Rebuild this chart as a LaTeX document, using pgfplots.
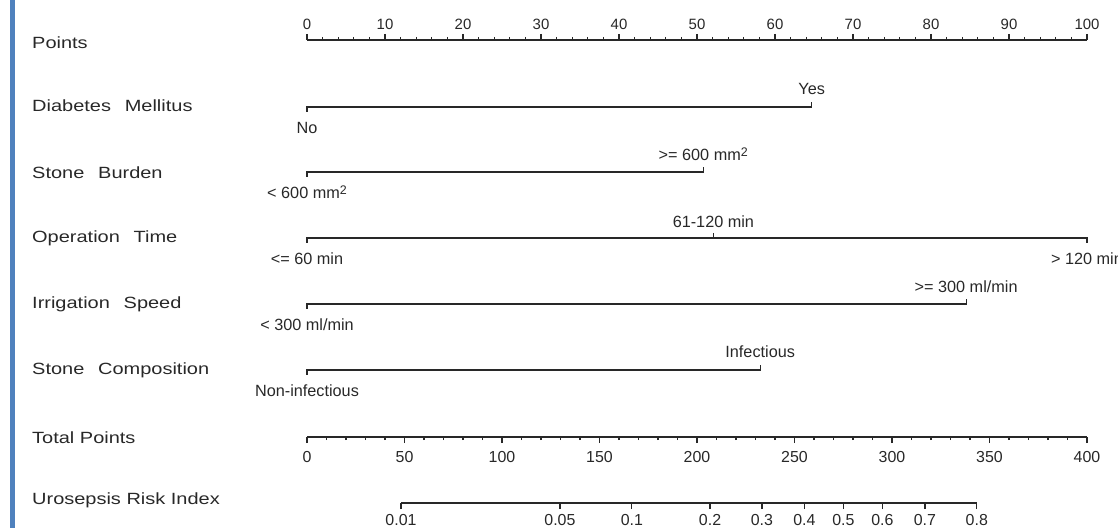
\documentclass[border=0pt]{standalone}
\usepackage{fontspec}
\setmainfont{Liberation Sans}
\newfontfamily\labfont{Liberation Sans}[FakeStretch=1.23]
\usepackage{pgfplots}
\pgfplotsset{compat=1.18}
\definecolor{barblue}{RGB}{79,129,189}
\definecolor{ink}{RGB}{40,40,40}
\newcommand{\fs}[1]{\fontsize{#1}{#1}\selectfont}
\newcommand{\sq}{\raisebox{0.5ex}{\fs{12.5}2}}
\pgfplotsset{
  nomoscale/.style={
    scale only axis, height=10bp, axis y line=none, ymin=0, ymax=1,
    axis line style={-, ink, line width=1.2bp},
    major tick length=6bp, minor tick length=3bp,
    every tick/.style={ink, line width=1.2bp},
    tick align=outside,
    /pgf/number format/assume math mode=true,
    xticklabel style={text=ink}
  },
}
\tikzset{catlab/.style={font=\fs{16.3}, text=ink, inner sep=0pt}}
\begin{document}
\begin{tikzpicture}
\useasboundingbox (0,0) rectangle (1118bp,528bp);
\fill[barblue] (10bp,0) rectangle (15bp,528bp);

% left labels
\begin{scope}[every node/.style={anchor=west, font=\labfont\fs{16.3}, text=ink, inner sep=0pt}]
\node at (32bp,485bp) {Points};
\node at (32bp,422bp) {Diabetes\hspace{0.85em}Mellitus};
\node at (32bp,355bp) {Stone\hspace{0.85em}Burden};
\node at (32bp,290bp) {Operation\hspace{0.85em}Time};
\node at (32bp,224bp) {Irrigation\hspace{0.85em}Speed};
\node at (32bp,158bp) {Stone\hspace{0.85em}Composition};
\node at (32bp,90bp) {Total Points};
\node at (32bp,28bp) {Urosepsis Risk Index};
\end{scope}

% Points scale
\begin{axis}[nomoscale, at={(307bp,488bp)}, anchor=north west, width=780bp,
  axis x line*=top, xmin=0, xmax=100, xtick={0,10,...,100}, minor x tick num=4,
  xticklabel style={font=\fs{15}, yshift=1bp}]
\addplot[draw=none] coordinates {(0,0.5) (100,0.5)};
\end{axis}

% Total points scale
\begin{axis}[nomoscale, at={(307bp,91bp)}, anchor=south west, width=780bp,
  axis x line*=bottom, xmin=0, xmax=400, xtick={0,50,...,400}, minor x tick num=4,
  xticklabel style={font=\fs{16}, yshift=-5bp}]
\addplot[draw=none] coordinates {(0,0.5) (400,0.5)};
\end{axis}

% Risk scale (positions on the total points scale)
\begin{axis}[nomoscale, at={(401bp,25bp)}, anchor=south west, width=575.8bp,
  axis x line*=bottom, xmin=48.2, xmax=343.5,
  xtick={48.2,129.7,166.6,206.7,233.3,255.1,275.1,295.1,316.9,343.5},
  xticklabels={0.01,0.05,0.1,0.2,0.3,0.4,0.5,0.6,0.7,0.8},
  xticklabel style={font=\fs{16}, yshift=-2bp}]
\addplot[draw=none] coordinates {(48.2,0.5) (343.5,0.5)};
\end{axis}

% variable rows
\begin{axis}[scale only axis, at={(307bp,0bp)}, anchor=south west, width=780bp, height=528bp,
  xmin=0, xmax=100, ymin=0, ymax=528, hide axis, clip=false]
\addplot[ink, line width=1.2bp] coordinates {(0,416) (0,421) (64.7,421) (64.7,426)};
\addplot[ink, line width=1.2bp] coordinates {(0,351) (0,356) (50.8,356) (50.8,361)};
\addplot[ink, line width=1.2bp] coordinates {(0,285) (0,290) (100,290) (100,285)};
\addplot[ink, line width=1.2bp] coordinates {(52.1,290) (52.1,295)};
\addplot[ink, line width=1.2bp] coordinates {(0,219) (0,224) (84.5,224) (84.5,229)};
\addplot[ink, line width=1.2bp] coordinates {(0,153) (0,158) (58.1,158) (58.1,163)};

\node[catlab] at (axis cs:0,400) {No};
\node[catlab] at (axis cs:64.7,439) {Yes};
\node[catlab] at (axis cs:0,336) {< 600 mm\sq};
\node[catlab] at (axis cs:50.8,374) {>= 600 mm\sq};
\node[catlab] at (axis cs:0,269) {<= 60 min};
\node[catlab] at (axis cs:52.1,306) {61-120 min};
\node[catlab] at (axis cs:100,269) {> 120 min};
\node[catlab] at (axis cs:0,203) {< 300 ml/min};
\node[catlab] at (axis cs:84.5,241) {>= 300 ml/min};
\node[catlab] at (axis cs:0,137) {Non-infectious};
\node[catlab] at (axis cs:58.1,176) {Infectious};
\end{axis}
\end{tikzpicture}
\end{document}
